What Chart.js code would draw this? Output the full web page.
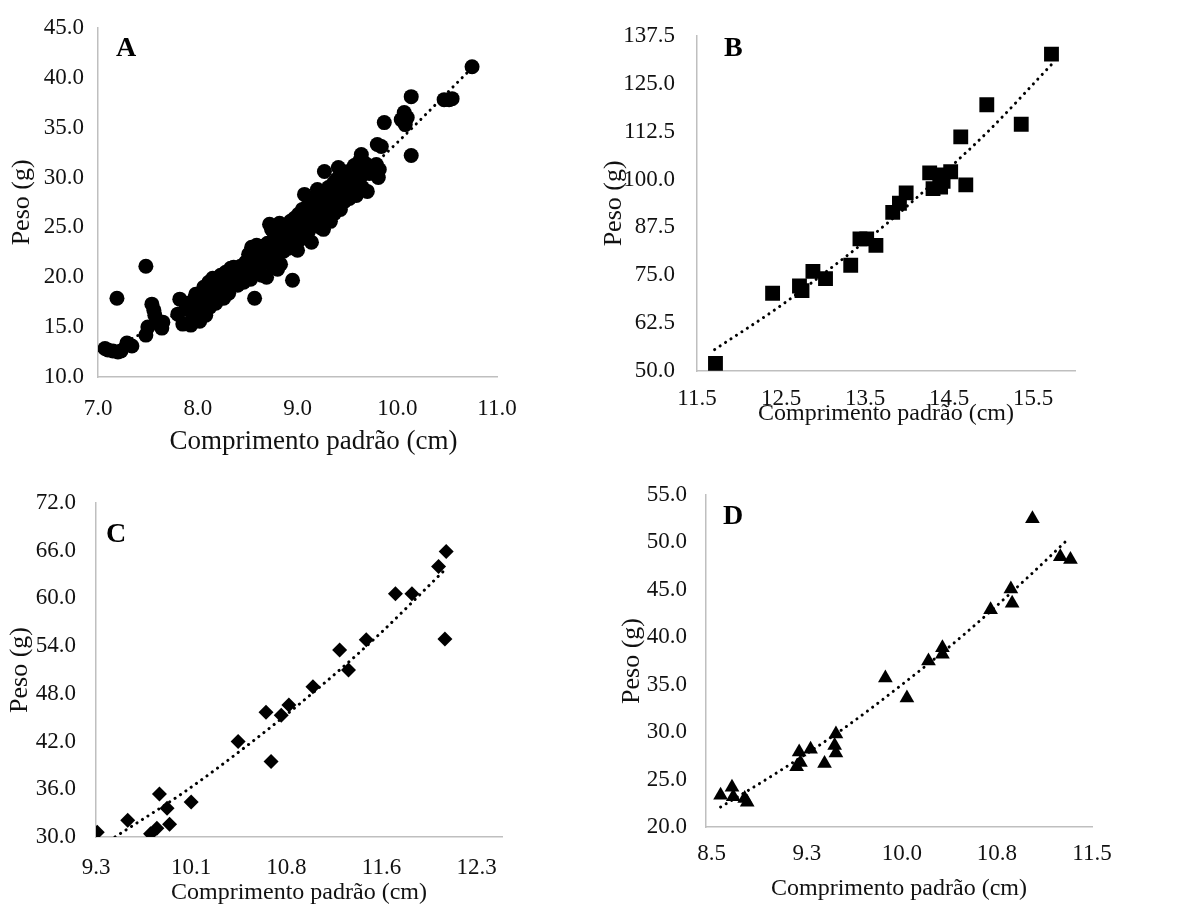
<!DOCTYPE html>
<html><head><meta charset="utf-8">
<script src="https://cdn.jsdelivr.net/npm/chart.js@4.4.1/dist/chart.umd.min.js"></script>
<style>
body{margin:0;background:#fff;width:1181px;height:904px;position:relative;overflow:hidden;font-family:"Liberation Serif","Times New Roman",serif}
.box{position:absolute}
.lbl{position:absolute;font:bold 28px "Liberation Serif",serif;line-height:28px;color:#000}
</style></head><body>
<div class="box" id="bA"><canvas id="cA"></canvas></div>
<div class="box" id="bB"><canvas id="cB"></canvas></div>
<div class="box" id="bC"><canvas id="cC"></canvas></div>
<div class="box" id="bD"><canvas id="cD"></canvas></div>
<div class="lbl" style="left:116px;top:33px">A</div>
<div class="lbl" style="left:724px;top:33px">B</div>
<div class="lbl" style="left:106px;top:519px">C</div>
<div class="lbl" style="left:723px;top:501px">D</div>
<script>
// ---------- DATA ----------
const xTitle = "Comprimento padrão (cm)";
const yTitle = "Peso (g)";

// Panel A
const pointsA = [
[7.07,12.86],[7.10,12.7],[7.15,12.6],[7.20,12.5],[7.23,12.6],[7.29,13.4],[7.34,13.1],[7.19,17.9],
[7.48,21.1],[7.48,14.2],[7.50,15.0],[7.54,17.3],[7.56,16.7],[7.57,16.2],[7.65,15.5],[7.64,14.9],[7.62,15.3],
[7.82,17.8],[7.80,16.3],[7.85,15.3],[7.88,16.8],[7.90,17.4],[7.93,15.2],[7.95,16.0],[7.97,17.9],[7.98,18.3],
[8.00,16.6],[8.02,15.6],[8.03,17.2],[8.05,18.6],[8.06,19.0],[8.07,17.8],[8.08,16.2],[8.10,18.2],[8.11,19.5],
[8.12,17.0],[8.14,18.8],[8.15,19.9],[8.17,18.0],[8.18,17.4],[8.20,19.2],[8.22,18.5],[8.23,20.2],[8.25,19.0],
[8.26,17.9],[8.28,20.5],[8.30,19.6],[8.31,18.4],[8.33,20.9],[8.35,19.8],[8.36,21.0],[8.38,20.3],[8.40,19.2],
[8.41,20.8],[8.43,21.1],[8.45,20.0],[8.46,19.5],[8.48,21.5],[8.50,20.6],[8.51,22.3],[8.52,21.0],[8.53,19.8],
[8.54,23.0],[8.55,22.0],[8.56,20.4],[8.57,17.9],[8.58,21.6],[8.59,23.2],[8.60,22.5],[8.61,20.9],[8.62,21.8],
[8.63,22.9],[8.64,20.2],[8.65,23.1],[8.66,21.4],[8.68,22.6],[8.69,20.0],[8.70,23.4],[8.71,21.9],[8.72,25.3],
[8.73,22.8],[8.74,24.8],[8.75,21.2],[8.76,23.8],[8.78,22.3],[8.79,24.4],[8.80,20.8],[8.81,23.0],[8.82,25.4],
[8.83,21.3],[8.84,24.0],[8.86,22.6],[8.87,25.1],[8.88,23.6],[8.90,24.5],[8.91,22.9],[8.93,25.6],[8.95,19.7],
[8.96,24.2],[8.97,25.9],[8.98,23.4],[9.00,22.7],[9.01,26.3],[9.02,24.9],[9.03,23.8],[9.04,25.7],[9.05,26.8],
[9.06,24.3],[9.07,28.3],[9.08,25.2],[9.09,27.0],[9.10,26.1],[9.11,24.6],[9.12,27.4],[9.13,25.8],[9.14,23.5],
[9.15,26.6],[9.16,27.8],[9.17,25.4],[9.18,26.9],[9.20,28.8],[9.21,26.2],[9.22,27.5],[9.23,25.0],[9.24,28.0],
[9.25,26.7],[9.26,24.8],[9.27,30.6],[9.28,27.2],[9.29,28.4],[9.30,26.0],[9.31,29.0],[9.32,27.7],[9.33,25.6],
[9.34,28.6],[9.35,27.0],[9.36,29.4],[9.37,26.4],[9.38,28.1],[9.39,29.8],[9.40,27.4],[9.41,31.0],[9.42,28.8],
[9.43,26.8],[9.44,29.2],[9.45,28.0],[9.46,30.0],[9.47,27.6],[9.48,29.5],[9.50,28.4],[9.51,30.6],[9.52,27.9],
[9.53,29.0],[9.55,30.3],[9.56,28.6],[9.57,31.2],[9.58,29.6],[9.59,28.2],[9.60,30.8],[9.61,29.3],[9.62,31.6],
[9.63,30.0],[9.64,32.3],[9.65,29.0],[9.66,30.9],[9.68,31.4],[9.70,28.6],[9.72,30.4],[9.74,31.0],
[9.79,31.3],[9.81,30.0],[9.80,33.3],[9.84,33.1],[9.82,30.8],[9.87,35.5],[10.04,35.8],[10.07,36.5],[10.10,36.0],
[10.08,35.3],[10.14,38.1],[10.14,32.2],[10.47,37.8],[10.52,37.8],[10.55,37.9],[10.75,41.1]
];
const trendAx = [7.05, 7.5, 8.0, 8.5, 9.0, 9.5, 10.0, 10.74];
const trendAy = [12.4, 14.7, 17.7, 21.0, 24.8, 28.9, 33.5, 40.9];
const ticksAx = [7.0, 8.0, 9.0, 10.0, 11.0];
const ticksAy = [10, 15, 20, 25, 30, 35, 40, 45];

// Panel B
const pointsB = [
[11.72,52.0],[12.40,70.3],[12.72,72.2],[12.75,71.0],[12.88,76.0],[13.03,74.1],[13.33,77.6],[13.44,84.5],
[13.52,84.5],[13.63,82.8],[13.83,91.4],[13.91,93.8],[13.99,96.5],[14.27,101.7],[14.31,97.6],[14.39,101.2],
[14.40,98.0],[14.43,99.5],[14.52,102.0],[14.70,98.6],[14.64,111.1],[14.95,119.5],[15.36,114.4],[15.72,132.7]
];
const trendBx = [11.71, 12.5, 13.0, 13.5, 14.0, 14.5, 15.0, 15.72];
const trendBy = [55.6, 67.1, 75.3, 83.8, 93.0, 102.9, 113.3, 130.0];
const ticksBx = [11.5, 12.5, 13.5, 14.5, 15.5];
const ticksBy = [50.0, 62.5, 75.0, 87.5, 100.0, 112.5, 125.0, 137.5];

// Panel C
const pointsC = [
[9.31,30.6],[9.55,32.1],[9.73,30.4],[9.78,31.1],[9.80,35.4],[9.86,33.6],[9.88,31.6],[10.05,34.4],
[10.42,42.0],[10.64,45.7],[10.68,39.5],[10.76,45.3],[10.82,46.6],[11.01,48.9],[11.22,53.5],[11.29,51.0],
[11.43,54.8],[11.66,60.6],[11.79,60.6],[12.00,64.0],[12.06,65.9],[12.05,54.9]
];
const trendCx = [9.45, 10.0, 10.5, 11.0, 11.5, 12.05];
const trendCy = [30.0, 35.7, 41.6, 48.0, 55.0, 63.6];
const ticksCx = [9.3, 10.05, 10.8, 11.55, 12.3];
const labelsCx = ["9.3", "10.1", "10.8", "11.6", "12.3"];
const ticksCy = [30, 36, 42, 48, 54, 60, 66, 72];

// Panel D
const pointsD = [
[8.57,23.35],[8.66,24.2],[8.67,23.2],[8.76,23.0],[8.78,22.6],[9.17,26.35],[9.19,27.9],[9.20,26.8],
[9.28,28.2],[9.39,26.7],[9.47,28.6],[9.48,29.8],[9.48,27.8],[9.87,35.7],[10.04,33.6],[10.21,37.5],
[10.32,38.9],[10.32,38.2],[10.70,42.9],[10.86,45.1],[10.87,43.6],[11.03,52.5],[11.25,48.5],[11.33,48.2]
];
const trendDx = [8.57, 9.0, 9.5, 10.0, 10.5, 11.0, 11.32];
const trendDy = [22.1, 25.6, 30.0, 35.0, 40.4, 46.4, 50.45];
const ticksDx = [8.5, 9.25, 10.0, 10.75, 11.5];
const labelsDx = ["8.5", "9.3", "10.0", "10.8", "11.5"];
const ticksDy = [20, 25, 30, 35, 40, 45, 50, 55];

// ---------- LAYOUT ----------
const FAM = '"Liberation Serif", "Times New Roman", serif';
const panels = [
 {id:'A', box:{l:0,t:0,w:580,h:460}, area:{l:98,t:24,r:497,b:377}, xmin:7, xmax:11, ymin:10, ymax:45,
  pts:pointsA, tx:trendAx, ty:trendAy, xt:ticksAx, xl:null, yt:ticksAy, style:'circle', r:7.5,
  xPad:18, xTitleC:442, xTitleSize:27, xTitleDx:16, yPad:14, yTitleC:22},
 {id:'B', box:{l:590,t:0,w:591,h:440}, area:{l:697,t:20,r:1075,b:371}, xmin:11.5, xmax:16, ymin:50, ymax:137.5,
  pts:pointsB, tx:trendBx, ty:trendBy, xt:ticksBx, xl:null, yt:ticksBy, style:'rect', r:10.5,
  xPad:14, xTitleC:414, xTitleSize:24, xTitleDx:0, yPad:22, yTitleC:614},
 {id:'C', box:{l:0,t:460,w:580,h:444}, area:{l:96,t:503,r:502,b:837}, xmin:9.3, xmax:12.5, ymin:30, ymax:72,
  pts:pointsC, tx:trendCx, ty:trendCy, xt:ticksCx, xl:labelsCx, yt:ticksCy, style:'rectRot', r:7.5,
  xPad:17, xTitleC:893, xTitleSize:24, xTitleDx:0, yPad:20, yTitleC:20},
 {id:'D', box:{l:590,t:460,w:591,h:444}, area:{l:706,t:495,r:1092,b:827}, xmin:8.455, xmax:11.5, ymin:20, ymax:55,
  pts:pointsD, tx:trendDx, ty:trendDy, xt:ticksDx, xl:labelsDx, yt:ticksDy, style:'triangle', r:8.5,
  xPad:13, xTitleC:889, xTitleSize:24, xTitleDx:0, yPad:19, yTitleC:632}
];

const TICK_FONT = {family:FAM, size:23};
const YT_FONT = {family:FAM, size:26};
const AXIS_COLOR = '#bfbfbf';
const TEXT_COLOR = '#111111';

panels.forEach(p => {
  const div = document.getElementById('b' + p.id);
  div.style.left = p.box.l + 'px'; div.style.top = p.box.t + 'px';
  div.style.width = p.box.w + 'px'; div.style.height = p.box.h + 'px';
  const cv = document.getElementById('c' + p.id);
  cv.width = p.box.w; cv.height = p.box.h;
  cv.style.width = p.box.w + 'px'; cv.style.height = p.box.h + 'px';
  const boxR = p.box.l + p.box.w, boxB = p.box.t + p.box.h;
  const yWidth = p.area.l - p.box.l;
  const xHeight = boxB - p.area.b;
  const xFont = {family:FAM, size:p.xTitleSize};
  const xTitleLH = p.xTitleSize * 1.2;
  const yTitleLH = YT_FONT.size * 1.2;
  new Chart(cv, {
    type: 'scatter',
    data: {
      datasets: [
        { type:'line', data: p.tx.map((x,i)=>({x:x, y:p.ty[i]})), borderColor:'#000', borderWidth:3,
          borderDash:[0.1,6.4], borderCapStyle:'round', pointRadius:0, fill:false,
          cubicInterpolationMode:'monotone', tension:0.4 },
        { data: p.pts.map(a=>({x:a[0], y:a[1]})), pointStyle:p.style, pointRadius:p.r,
          pointBackgroundColor:'#000', pointBorderColor:'#000', pointBorderWidth:0, pointHoverRadius:p.r }
      ]
    },
    options: {
      responsive:false, animation:false, devicePixelRatio:1,
      layout:{ padding:{ left:0, top:p.area.t - p.box.t, right: boxR - p.area.r, bottom:0 } },
      plugins:{ legend:{display:false}, tooltip:{enabled:false} },
      events:[],
      scales:{
        x:{ type:'linear', min:p.xmin, max:p.xmax,
            afterBuildTicks: s => { s.ticks = p.xt.map(v=>({value:v})); },
            afterFit: s => {
              s.height = xHeight;
              if (p.xTitleDx && !s._shiftPatched) {
                const orig = s.drawTitle.bind(s);
                s.drawTitle = function(){ this.ctx.save(); this.ctx.translate(p.xTitleDx,0); orig(); this.ctx.restore(); };
                s._shiftPatched = true;
              }
            },
            grid:{display:false, drawTicks:false, tickLength:0},
            border:{display:true, color:AXIS_COLOR, width:1.5},
            ticks:{ font:TICK_FONT, color:TEXT_COLOR, padding:p.xPad, maxRotation:0, autoSkip:false,
                    callback:(v,i)=> p.xl ? p.xl[i] : Number(v).toFixed(1) },
            title:{ display:true, text:xTitle, font:xFont, color:TEXT_COLOR,
                    padding:{top:0, bottom: boxB - p.xTitleC - xTitleLH/2} }
        },
        y:{ type:'linear', min:p.ymin, max:p.ymax,
            afterBuildTicks: s => { s.ticks = p.yt.map(v=>({value:v})); },
            afterFit: s => { s.width = yWidth; },
            grid:{display:false, drawTicks:false, tickLength:0},
            border:{display:true, color:AXIS_COLOR, width:1.5},
            ticks:{ font:TICK_FONT, color:TEXT_COLOR, padding:p.yPad, autoSkip:false,
                    callback:(v)=> Number(v).toFixed(1) },
            title:{ display:true, text:yTitle, font:YT_FONT, color:TEXT_COLOR,
                    padding:{top: p.yTitleC - p.box.l - yTitleLH/2, bottom:0} }
        }
      }
    }
  });
});
</script>
</body></html>
